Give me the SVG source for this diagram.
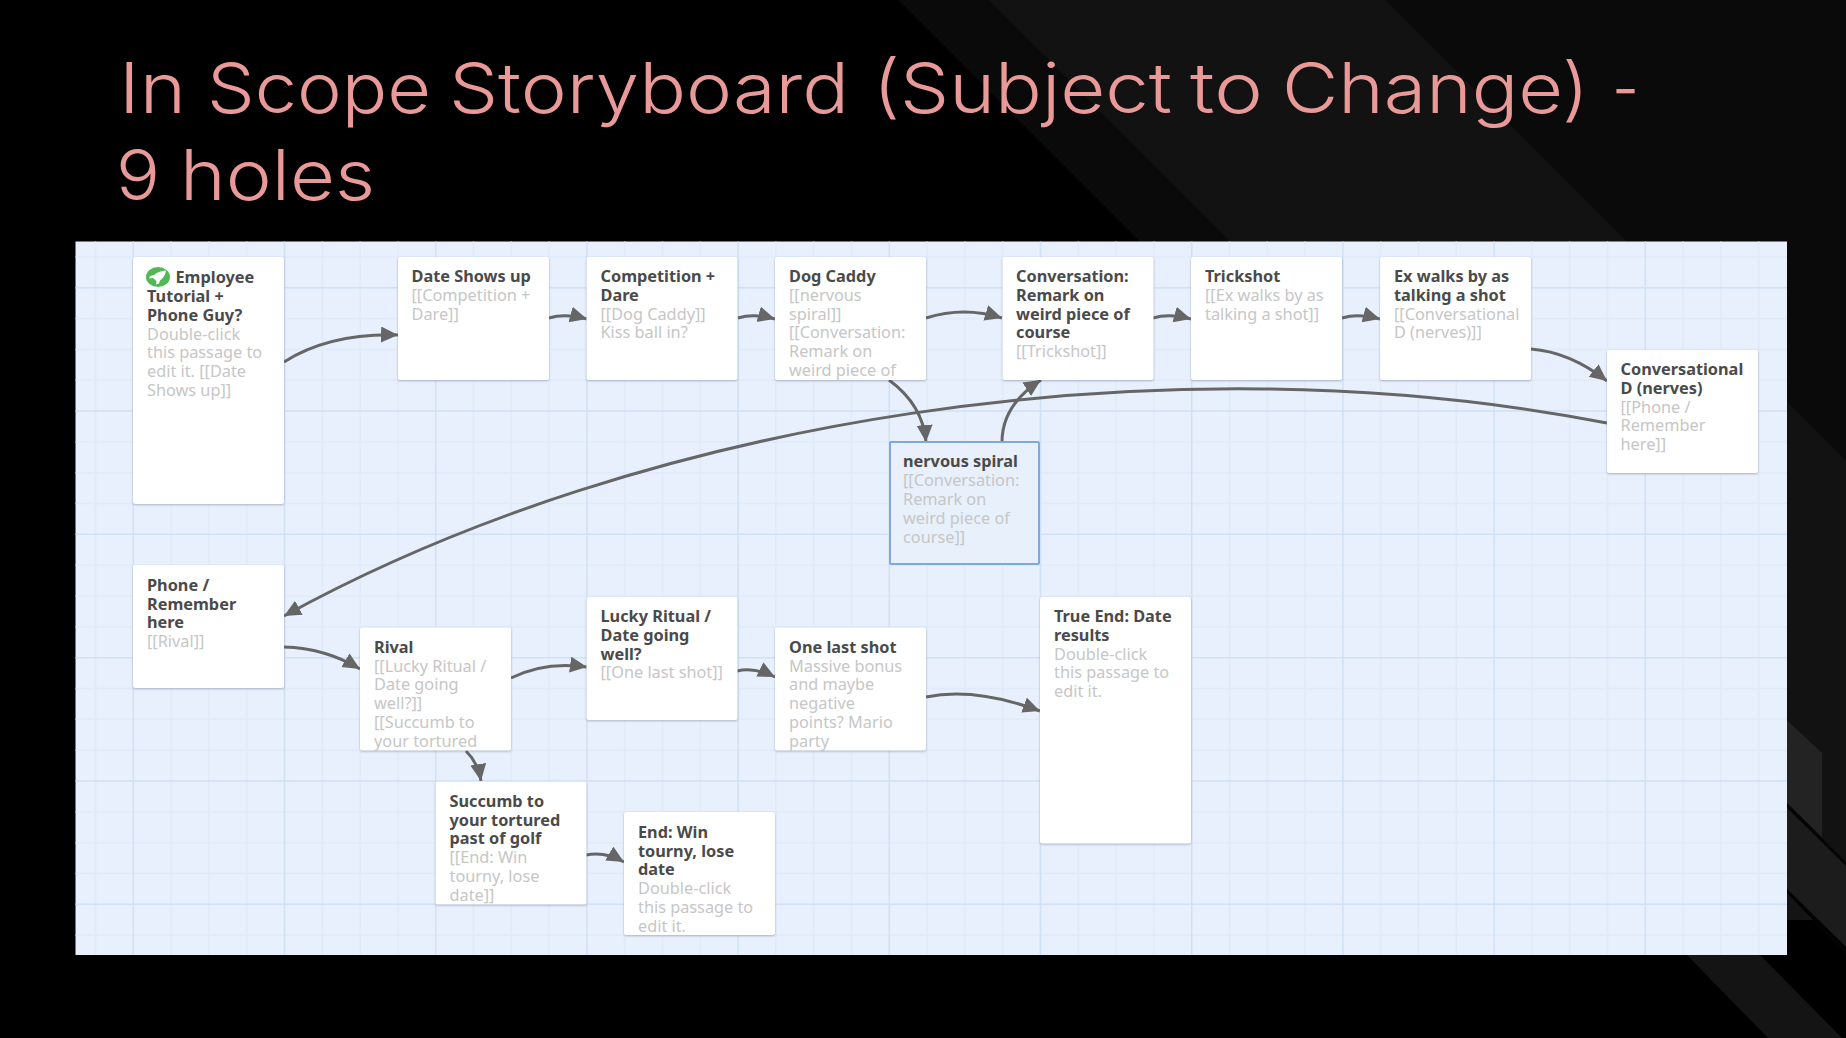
<svg xmlns="http://www.w3.org/2000/svg" width="1846" height="1038" viewBox="0 0 1846 1038">
<style>
.t{font-family:"Noto Sans","Open Sans",sans-serif;font-size:16.3px;font-weight:700;fill:#4a4a4a;transform:translateY(.8px)}
.b{font-family:"Noto Sans","Open Sans",sans-serif;font-size:16.3px;fill:#c6c6c6;transform:translateY(.8px)}
.h{font-family:Inter,"Noto Sans",sans-serif;font-weight:350;font-size:70px;fill:#ea9999}
.card{fill:#fff;filter:drop-shadow(0 1px 1px rgba(60,70,90,.35))}
.sel{fill:#e8f0fb;stroke:#7fa8e2;stroke-width:2}
.c{fill:none;stroke:#666;stroke-width:3}
.mi{fill:none;stroke:#e0eafb;stroke-width:1.5}
.ma{fill:none;stroke:#d0e0f8;stroke-width:1.5}
</style>
<defs>
<marker id="ah" markerUnits="userSpaceOnUse" markerWidth="20" markerHeight="18" refX="17" refY="8" orient="auto"><path d="M0 0L17 8L0 16Z" fill="#666"/></marker>
<clipPath id="cDog"><rect x="775" y="257" width="151" height="123"/></clipPath>
<clipPath id="cRival"><rect x="360" y="627" width="151" height="124"/></clipPath>
<clipPath id="cOne"><rect x="775" y="627" width="151" height="124"/></clipPath>
<clipPath id="cSuc"><rect x="435" y="781" width="151" height="124"/></clipPath>
<clipPath id="cEnd"><rect x="624" y="812" width="151" height="123"/></clipPath>
</defs>
<g id="background">
<rect width="1846" height="1038" fill="#000"/>
<path d="M898 0H1846V948L898 0Z" fill="#0a0a0a"/>
<path d="M989 0H1385L1846 461V920H1787V600L1230 241Z" fill="#121212"/>
<path d="M0 920H1846V1038H0Z" fill="#000"/>
<path d="M1787 720.500L1822 753V837L1787 803Z" fill="#232323"/>
<path d="M1787 803L1846 862V867L1787 808Z" fill="#050505"/>
<path d="M1787 808L1846 866V947L1787 889Z" fill="#1c1c1c"/>
<path d="M1787 889L1846 947V955L1787 893Z" fill="#030303"/>
<path d="M1787 893L1813 920H1787Z" fill="#141414"/>
<path d="M1687 955H1760L1842 1038H1768Z" fill="#141414"/>
</g>
<g id="title">
<text class="h" x="119" y="112.500" textLength="67" lengthAdjust="spacingAndGlyphs">In</text>
<text class="h" x="207" y="112.500" textLength="224" lengthAdjust="spacingAndGlyphs">Scope</text>
<text class="h" x="449" y="112.500" textLength="400" lengthAdjust="spacingAndGlyphs">Storyboard</text>
<text class="h" x="873" y="112.500" textLength="299" lengthAdjust="spacingAndGlyphs">(Subject</text>
<text class="h" x="1190" y="112.500" textLength="73" lengthAdjust="spacingAndGlyphs">to</text>
<text class="h" x="1282" y="112.500" textLength="307" lengthAdjust="spacingAndGlyphs">Change)</text>
<text class="h" x="1612" y="112.500" textLength="27" lengthAdjust="spacingAndGlyphs">-</text>
<text class="h" x="116" y="199.500" textLength="44" lengthAdjust="spacingAndGlyphs">9</text>
<text class="h" x="180" y="199.500" textLength="195" lengthAdjust="spacingAndGlyphs">holes</text>
</g>
<g id="canvas">
<rect x="75.500" y="241.500" width="1711.500" height="713.500" fill="#e7f0fc"/>
<path class="mi" d="M95.500 241.500V955M171.100 241.500V955M208.900 241.500V955M246.700 241.500V955M322.300 241.500V955M360.100 241.500V955M397.900 241.500V955M473.500 241.500V955M511.300 241.500V955M549.100 241.500V955M624.700 241.500V955M662.500 241.500V955M700.300 241.500V955M775.900 241.500V955M813.700 241.500V955M851.500 241.500V955M927.100 241.500V955M964.900 241.500V955M1002.700 241.500V955M1078.300 241.500V955M1116.100 241.500V955M1153.900 241.500V955M1229.500 241.500V955M1267.300 241.500V955M1305.100 241.500V955M1380.700 241.500V955M1418.500 241.500V955M1456.300 241.500V955M1531.900 241.500V955M1569.700 241.500V955M1607.500 241.500V955M1683.100 241.500V955M1720.900 241.500V955M1758.700 241.500V955M75.500 256.900H1787M75.500 318.500H1787M75.500 349.400H1787M75.500 380.200H1787M75.500 441.900H1787M75.500 472.700H1787M75.500 503.500H1787M75.500 565.200H1787M75.500 596H1787M75.500 626.800H1787M75.500 688.500H1787M75.500 719.300H1787M75.500 750.200H1787M75.500 811.800H1787M75.500 842.700H1787M75.500 873.500H1787M75.500 935.200H1787"/>
<path class="ma" d="M133.300 241.500V955M284.500 241.500V955M435.700 241.500V955M586.900 241.500V955M738.100 241.500V955M889.300 241.500V955M1040.500 241.500V955M1191.700 241.500V955M1342.900 241.500V955M1494.100 241.500V955M1645.300 241.500V955M75.500 287.700H1787M75.500 411H1787M75.500 534.300H1787M75.500 657.700H1787M75.500 781H1787M75.500 904.300H1787"/>
</g>
<g id="connectors">
<path class="c" marker-end="url(#ah)" d="M284 362Q330 333 398 335"/>
<path class="c" marker-end="url(#ah)" d="M549 318Q565 313 587 319"/>
<path class="c" marker-end="url(#ah)" d="M738 318Q754 313 775 319"/>
<path class="c" marker-end="url(#ah)" d="M926 318Q964 306 1002 318"/>
<path class="c" marker-end="url(#ah)" d="M1153 318Q1169 313 1191 319"/>
<path class="c" marker-end="url(#ah)" d="M1342 318Q1358 313 1380 319"/>
<path class="c" marker-end="url(#ah)" d="M1531 349Q1570 352 1607 381"/>
<path class="c" marker-end="url(#ah)" d="M889 380Q923 405 926 442"/>
<path class="c" marker-end="url(#ah)" d="M1002 442Q1002 405 1041 380"/>
<path class="c" marker-end="url(#ah)" d="M1607 423C1160 336 640 420 284 616"/>
<path class="c" marker-end="url(#ah)" d="M284 647Q325 648 360 669"/>
<path class="c" marker-end="url(#ah)" d="M511 678Q545 661 587 667"/>
<path class="c" marker-end="url(#ah)" d="M466 751Q478 763 481 781"/>
<path class="c" marker-end="url(#ah)" d="M737 671Q755 667 775 677"/>
<path class="c" marker-end="url(#ah)" d="M926 697Q975 687 1040 711"/>
<path class="c" marker-end="url(#ah)" d="M586 855Q605 851 624 862"/>
</g>
<g id="n-employee"><rect class="card" x="133" y="257" width="151" height="247" rx="2"/>
<ellipse cx="158" cy="277" rx="12" ry="10" fill="#4fb954"/><path d="M166 270.500Q158 271 154 275L150 276L149 278.500L153 278L156.500 281L156 284.500L159 283.500L160 280.500Q165 277 166 270.500Z" fill="#fff"/>
<text class="t" x="175.500" y="282">Employee</text><text class="t" x="147" y="301">Tutorial +</text><text class="t" x="147" y="320">Phone Guy?</text>
<text class="b" x="147" y="338.800">Double-click</text><text class="b" x="147" y="357.600">this passage to</text><text class="b" x="147" y="376.400">edit it. [[Date</text><text class="b" x="147" y="395.200">Shows up]]</text></g>
<g id="n-date"><rect class="card" x="398" y="257" width="151" height="123" rx="2"/>
<text class="t" x="411.500" y="281.200">Date Shows up</text><text class="b" x="411.500" y="300">[[Competition +</text><text class="b" x="411.500" y="318.800">Dare]]</text></g>
<g id="n-competition"><rect class="card" x="586.500" y="257" width="151" height="123" rx="2"/>
<text class="t" x="600.500" y="281.200">Competition +</text><text class="t" x="600.500" y="300">Dare</text><text class="b" x="600.500" y="318.800">[[Dog Caddy]]</text><text class="b" x="600.500" y="337.600">Kiss ball in?</text></g>
<g id="n-dog"><rect class="card" x="775" y="257" width="151" height="123" rx="2"/>
<g clip-path="url(#cDog)"><text class="t" x="789" y="281.200">Dog Caddy</text><text class="b" x="789" y="300">[[nervous</text><text class="b" x="789" y="318.800">spiral]]</text><text class="b" x="789" y="337.600">[[Conversation:</text><text class="b" x="789" y="356.400">Remark on</text><text class="b" x="789" y="375.200">weird piece of</text></g></g>
<g id="n-conversation"><rect class="card" x="1002.500" y="257" width="151" height="123" rx="2"/>
<text class="t" x="1016" y="281.200">Conversation:</text><text class="t" x="1016" y="300">Remark on</text><text class="t" x="1016" y="318.800">weird piece of</text><text class="t" x="1016" y="337.600">course</text><text class="b" x="1016" y="356.400">[[Trickshot]]</text></g>
<g id="n-trickshot"><rect class="card" x="1191" y="257" width="151" height="123" rx="2"/>
<text class="t" x="1205" y="281.200">Trickshot</text><text class="b" x="1205" y="300">[[Ex walks by as</text><text class="b" x="1205" y="318.800">talking a shot]]</text></g>
<g id="n-ex"><rect class="card" x="1380" y="257" width="151" height="123" rx="2"/>
<text class="t" x="1394" y="281.200">Ex walks by as</text><text class="t" x="1394" y="300">talking a shot</text><text class="b" x="1394" y="318.800">[[Conversational</text><text class="b" x="1394" y="337.600">D (nerves)]]</text></g>
<g id="n-convd"><rect class="card" x="1607" y="350" width="151" height="123" rx="2"/>
<text class="t" x="1620.500" y="374.200">Conversational</text><text class="t" x="1620.500" y="393">D (nerves)</text><text class="b" x="1620.500" y="411.800">[[Phone /</text><text class="b" x="1620.500" y="430.600">Remember</text><text class="b" x="1620.500" y="449.400">here]]</text></g>
<g id="n-nervous"><rect class="sel" x="890" y="442" width="149" height="122" rx="1"/>
<text class="t" x="903" y="466.700">nervous spiral</text><text class="b" x="903" y="485.500">[[Conversation:</text><text class="b" x="903" y="504.300">Remark on</text><text class="b" x="903" y="523.100">weird piece of</text><text class="b" x="903" y="541.900">course]]</text></g>
<g id="n-phone"><rect class="card" x="133" y="565" width="151" height="123" rx="2"/>
<text class="t" x="147" y="590">Phone /</text><text class="t" x="147" y="608.800">Remember</text><text class="t" x="147" y="627.600">here</text><text class="b" x="147" y="646.400">[[Rival]]</text></g>
<g id="n-rival"><rect class="card" x="360" y="627.500" width="151" height="123" rx="2"/>
<g clip-path="url(#cRival)"><text class="t" x="374" y="652">Rival</text><text class="b" x="374" y="670.800">[[Lucky Ritual /</text><text class="b" x="374" y="689.600">Date going</text><text class="b" x="374" y="708.400">well?]]</text><text class="b" x="374" y="727.200">[[Succumb to</text><text class="b" x="374" y="746">your tortured</text></g></g>
<g id="n-lucky"><rect class="card" x="586.500" y="597" width="151" height="123" rx="2"/>
<text class="t" x="600.500" y="621.200">Lucky Ritual /</text><text class="t" x="600.500" y="640">Date going</text><text class="t" x="600.500" y="658.800">well?</text><text class="b" x="600.500" y="677.600">[[One last shot]]</text></g>
<g id="n-one"><rect class="card" x="775" y="627.500" width="151" height="123" rx="2"/>
<g clip-path="url(#cOne)"><text class="t" x="789" y="652">One last shot</text><text class="b" x="789" y="670.800">Massive bonus</text><text class="b" x="789" y="689.600">and maybe</text><text class="b" x="789" y="708.400">negative</text><text class="b" x="789" y="727.200">points? Mario</text><text class="b" x="789" y="746">party</text></g></g>
<g id="n-true"><rect class="card" x="1040" y="597" width="151" height="246.500" rx="2"/>
<text class="t" x="1054" y="621.200">True End: Date</text><text class="t" x="1054" y="640">results</text><text class="b" x="1054" y="658.800">Double-click</text><text class="b" x="1054" y="677.600">this passage to</text><text class="b" x="1054" y="696.400">edit it.</text></g>
<g id="n-succumb"><rect class="card" x="435.500" y="781.500" width="151" height="123" rx="2"/>
<g clip-path="url(#cSuc)"><text class="t" x="449.500" y="806">Succumb to</text><text class="t" x="449.500" y="824.800">your tortured</text><text class="t" x="449.500" y="843.600">past of golf</text><text class="b" x="449.500" y="862.400">[[End: Win</text><text class="b" x="449.500" y="881.200">tourny, lose</text><text class="b" x="449.500" y="900">date]]</text></g></g>
<g id="n-end"><rect class="card" x="624" y="812" width="151" height="123" rx="2"/>
<g clip-path="url(#cEnd)"><text class="t" x="638" y="837">End: Win</text><text class="t" x="638" y="855.800">tourny, lose</text><text class="t" x="638" y="874.600">date</text><text class="b" x="638" y="893.400">Double-click</text><text class="b" x="638" y="912.200">this passage to</text><text class="b" x="638" y="931">edit it.</text></g></g>
</svg>
